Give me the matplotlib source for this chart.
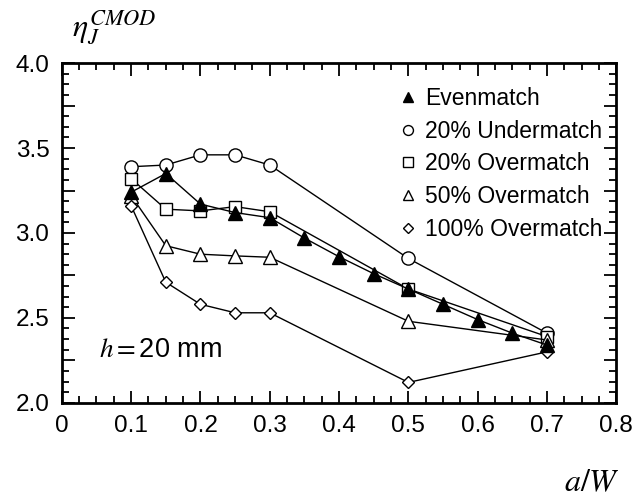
import numpy as np
import matplotlib
matplotlib.use("Agg")
import matplotlib.pyplot as plt
from matplotlib.ticker import MultipleLocator, FuncFormatter

plt.rcParams['font.family'] = ['Liberation Sans', 'DejaVu Sans']
plt.rcParams['mathtext.fontset'] = 'stix'

# crack depth ratios a/W
aw_even = [0.10, 0.15, 0.20, 0.25, 0.30, 0.35, 0.40, 0.45, 0.50, 0.55, 0.60, 0.65, 0.70]
eta_even = [3.24, 3.35, 3.17, 3.12, 3.09, 2.97, 2.86, 2.76, 2.67, 2.58, 2.49, 2.41, 2.34]

aw_mis = [0.10, 0.15, 0.20, 0.25, 0.30, 0.50, 0.70]
eta_under20 = [3.39, 3.40, 3.46, 3.46, 3.40, 2.85, 2.41]
eta_over20 = [3.32, 3.14, 3.13, 3.155, 3.125, 2.67, 2.39]
eta_over50 = [3.22, 2.925, 2.875, 2.865, 2.857, 2.48, 2.37]
eta_over100 = [3.16, 2.71, 2.58, 2.53, 2.53, 2.12, 2.30]

fig = plt.figure(figsize=(6.44, 5.01), dpi=100)
ax = fig.add_axes([0.096, 0.196, 0.861, 0.678])

lw = 1.0
ax.plot(aw_mis, eta_under20, '-', color='k', lw=lw, marker='o', ms=9.5,
        mfc='white', mec='k', mew=1.0, label='20% Undermatch', zorder=3)
ax.plot(aw_mis, eta_over20, '-', color='k', lw=lw, marker='s', ms=9,
        mfc='white', mec='k', mew=1.0, label='20% Overmatch', zorder=3)
ax.plot(aw_mis, eta_over50, '-', color='k', lw=lw, marker='^', ms=9.5,
        mfc='white', mec='k', mew=1.0, label='50% Overmatch', zorder=3)
ax.plot(aw_mis, eta_over100, '-', color='k', lw=lw, marker='D', ms=6.5,
        mfc='white', mec='k', mew=1.0, label='100% Overmatch', zorder=3)
ax.plot(aw_even, eta_even, '-', color='k', lw=lw, marker='^', ms=9.5,
        mfc='k', mec='k', label='Evenmatch', zorder=4)

ax.set_xlim(0, 0.8)
ax.set_ylim(2.0, 4.0)

ax.xaxis.set_major_locator(MultipleLocator(0.1))
ax.xaxis.set_minor_locator(MultipleLocator(0.025))
ax.yaxis.set_major_locator(MultipleLocator(0.25))
ax.yaxis.set_minor_locator(MultipleLocator(0.0625))
ax.xaxis.set_major_formatter(FuncFormatter(lambda v, p: '0' if abs(v) < 1e-9 else f'{v:.1f}'))
ax.yaxis.set_major_formatter(FuncFormatter(
    lambda v, p: f'{v:.1f}' if abs(v * 2 - round(v * 2)) < 1e-6 else ''))

ax.tick_params(which='both', direction='in', top=True, right=True,
               labelsize=17.5, width=1.3)
ax.tick_params(which='major', length=9, pad=9)
ax.tick_params(which='minor', length=5)
for s in ax.spines.values():
    s.set_linewidth(2.0)

handles, labels = ax.get_legend_handles_labels()
order = [4, 0, 1, 2, 3]
leg = ax.legend([handles[i] for i in order], [labels[i] for i in order],
                loc='upper right', frameon=False, fontsize=16.5,
                handlelength=0, handletextpad=0.75, labelspacing=0.42,
                markerscale=0.75, borderaxespad=0.2,
                bbox_to_anchor=(1.0, 0.97))

ax.text(0.054, 2.31, r'$h=$' + '20 mm', fontsize=19.5, va='center', ha='left')

fig.text(0.112, 0.945, r'$\eta_J^{CMOD}$', fontsize=23, ha='left', va='center')
fig.text(0.962, 0.036, r'$a/W$', fontsize=23, ha='right', va='center')

fig.savefig('out.png', dpi=100)
